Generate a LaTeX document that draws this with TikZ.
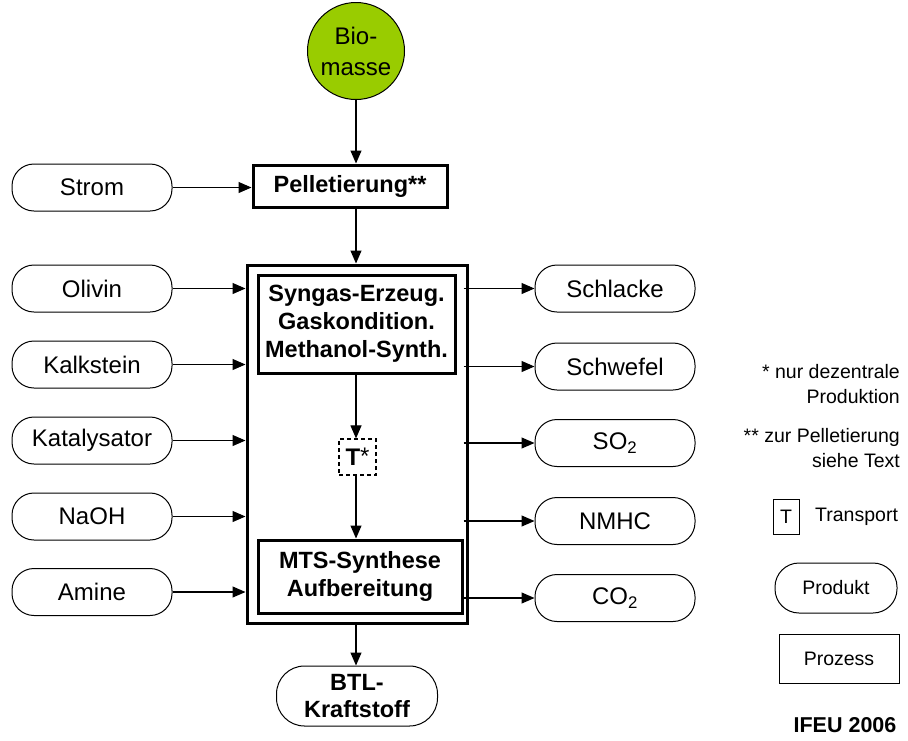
\documentclass[tikz,border=0pt]{standalone}
\usepackage{fontspec}
\setmainfont{Liberation Sans}
\usetikzlibrary{arrows.meta}
\definecolor{biogreen}{HTML}{99CC00}
\begin{document}
\begin{tikzpicture}[x=1pt,y=-1pt,
  font=\fontsize{24}{28}\selectfont,
  prod/.style={draw, line width=1pt, rounded corners=22pt, minimum width=160pt,
    minimum height=47pt, inner sep=0pt, align=center},
  proc/.style={draw, line width=3pt, inner sep=0pt, align=center,
    font=\fontsize{23.5}{28}\selectfont\bfseries},
  arr/.style={-{Triangle[length=13pt,width=11pt]}, line width=1.1pt},
  legend/.style={font=\fontsize{19.5}{25}\selectfont, inner sep=0pt},
]
\useasboundingbox (0,0) rectangle (908,740);

% raw material
\node[circle, draw, fill=biogreen, line width=1pt, minimum size=97pt, inner sep=0pt,
  align=center, font=\fontsize{24}{31}\selectfont] (bio) at (356,51) {Bio-\\masse};

% process chain
\node[proc, minimum width=194pt, minimum height=42pt] (pel) at (350,186) {Pelletierung**};
\node[draw, line width=3pt, minimum width=220pt, minimum height=358pt] (outer) at (357,444) {};
\node[proc, minimum width=197pt, minimum height=98pt] (syn) at (356.5,324)
  {Syngas-Erzeug.\\Gaskondition.\\Methanol-Synth.};
\node[draw, dashed, dash pattern=on 4pt off 3pt, line width=1.2pt, minimum width=37pt,
  minimum height=36pt, inner sep=0pt] (trans) at (357.5,457) {\textbf{T}\raisebox{1pt}{*}};
\node[proc, minimum width=204pt, minimum height=73pt] (mts) at (360,576.5)
  {MTS-Synthese\\Aufbereitung};
\node[prod, minimum width=161pt, minimum height=60pt, rounded corners=28pt,
  font=\fontsize{23.5}{27}\selectfont\bfseries] (btl) at (357,696) {BTL-\\Kraftstoff};

% inputs
\node[prod] (strom) at (92,187.5) {Strom};
\node[prod] (olivin) at (92,288.5) {Olivin};
\node[prod] (kalk) at (92,364.5) {Kalkstein};
\node[prod] (kat) at (92,440.5) {Katalysator};
\node[prod] (naoh) at (92,516.5) {NaOH};
\node[prod] (amine) at (92,592) {Amine};

% outputs
\node[prod] (schlacke) at (615,288.5) {Schlacke};
\node[prod] (schwefel) at (615,366.5) {Schwefel};
\node[prod] (so2) at (615,443) {SO\textsubscript{2}};
\node[prod] (nmhc) at (615,521) {NMHC};
\node[prod] (co2) at (615,598) {CO\textsubscript{2}};

% main flow
\draw[arr] (bio.south) -- (bio.south |- pel.north);
\draw[arr] (strom.east) -- (pel.west |- strom.east);
\draw[arr] (pel.south -| bio.south) -- (bio.south |- outer.north);
\draw[arr] (syn.south -| bio.south) -- (bio.south |- trans.north);
\draw[arr] (trans.south -| bio.south) -- (bio.south |- mts.north);
\draw[arr] (outer.south -| bio.south) -- (bio.south |- btl.north);

% auxiliary inputs
\foreach \n in {olivin,kalk,kat,naoh,amine}
  \draw[arr] (\n.east) -- (outer.west |- \n.east);

% emissions and by-products
\foreach \n in {schlacke,schwefel,so2,nmhc,co2}
  \draw[arr] ([xshift=-5pt]outer.east |- \n.west) -- (\n.west);

% legend
\node[legend, anchor=east, align=right] (n1) at (900,384.5)
  {* nur dezentrale\\Produktion};
\node[legend, anchor=east, align=right] (n2) at (900,448.5)
  {** zur Pelletierung\\siehe Text};
\node[draw, line width=1pt, minimum width=26pt, minimum height=35pt, legend] (lt) at (786,516.5) {T};
\node[legend, anchor=west] (ltxt) at (815,516.5) {Transport};
\node[prod, minimum width=122pt, minimum height=50pt, rounded corners=24pt, legend] (lprod) at (836,588) {Produkt};
\node[draw, line width=1pt, minimum width=120pt, minimum height=49pt, legend] (lproc) at (839,658.5) {Prozess};
\node[font=\fontsize{21.5}{24}\selectfont\bfseries, inner sep=0pt] (ifeu) at (845,725) {IFEU 2006};
\end{tikzpicture}
\end{document}
